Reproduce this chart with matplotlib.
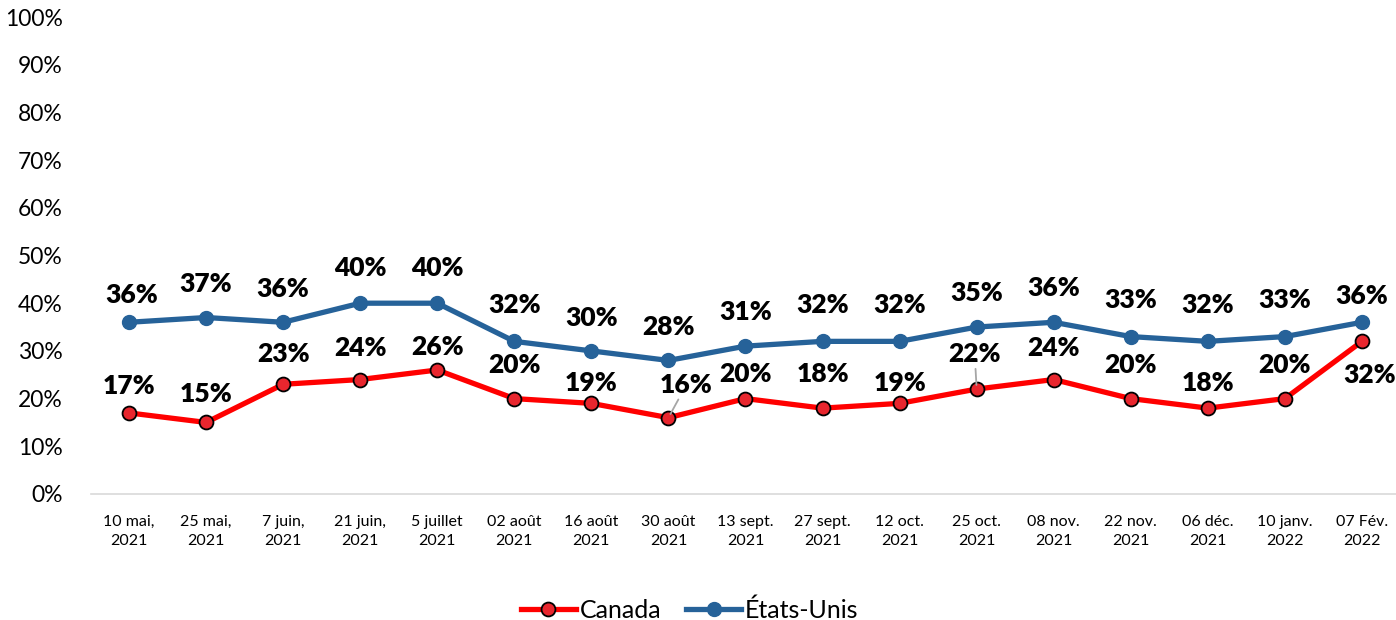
import matplotlib
matplotlib.use("Agg")
import matplotlib.pyplot as plt

dates = ["10 mai,\n2021", "25 mai,\n2021", "7 juin,\n2021", "21 juin,\n2021", "5 juillet\n2021",
         "02 août\n2021", "16 août\n2021", "30 août\n2021", "13 sept.\n2021", "27 sept.\n2021",
         "12 oct.\n2021", "25 oct.\n2021", "08 nov.\n2021", "22 nov.\n2021", "06 déc.\n2021",
         "10 janv.\n2022", "07 Fév.\n2022"]
canada = [17, 15, 23, 24, 26, 20, 19, 16, 20, 18, 19, 22, 24, 20, 18, 20, 32]
usa = [36, 37, 36, 40, 40, 32, 30, 28, 31, 32, 32, 35, 36, 33, 32, 33, 36]

# label offsets in pixels (dx, dy)
ca_off = [(0, 27), (0, 28), (0, 30), (0, 32), (0, 23), (0, 34), (0, 20), (18, 33), (0, 25),
          (0, 34), (0, 20), (-2, 35), (0, 32), (0, 34), (0, 25), (0, 34), (8, -34)]
us_off = [(3, 27), (0, 34), (0, 33), (0, 35), (0, 35), (0, 36), (0, 33), (0, 33), (0, 34),
          (0, 36), (0, 36), (0, 34), (0, 34), (0, 37), (0, 36), (0, 37), (0, 26)]
leaders = {7, 11}

plt.rcParams['font.family'] = ['Lato', 'DejaVu Sans']

fig = plt.figure(figsize=(13.96, 6.2), dpi=100)
ax = fig.add_axes([90.5 / 1396, 126 / 620, 1310 / 1396, 477 / 620])

x = list(range(len(dates)))
red = '#FF0000'
blue = '#266299'
ax.plot(x, canada, color=red, lw=3.8, marker='o', ms=10, mfc='#E8262E', mec='black',
        mew=1.3, label='Canada', zorder=3)
ax.plot(x, usa, color=blue, lw=3.8, marker='o', ms=10, mfc=blue, mec=blue,
        label='États-Unis', zorder=3)

for i, v in enumerate(usa):
    ax.annotate(f"{v}%", (i, v), xytext=us_off[i], textcoords='offset pixels',
                ha='center', va='center', fontsize=19, fontweight='heavy')
for i, v in enumerate(canada):
    kw = {}
    if i in leaders:
        kw['arrowprops'] = dict(arrowstyle='-', color='#A6A6A6', lw=1.3, shrinkA=0, shrinkB=3)
    ax.annotate(f"{v}%", (i, v), xytext=ca_off[i], textcoords='offset pixels',
                ha='center', va='center', fontsize=19, fontweight='heavy', **kw)

ax.set_xlim(-0.5, len(dates) - 0.5)
ax.set_ylim(0, 100)
ax.set_yticks(range(0, 101, 10))
ax.set_yticklabels([f"{t}%" for t in range(0, 101, 10)], fontsize=16.5)
ax.set_xticks(x)
ax.set_xticklabels(dates, fontsize=11.5, linespacing=1.45)
ax.tick_params(axis='both', length=0)
ax.tick_params(axis='x', pad=15)
ax.tick_params(axis='y', pad=20)
for s in ['top', 'right', 'left']:
    ax.spines[s].set_visible(False)
ax.spines['bottom'].set_color('#D9D9D9')
ax.spines['bottom'].set_linewidth(1.2)

fig.legend(loc='center', bbox_to_anchor=(0.494, 0.016), ncol=2, frameon=False,
           fontsize=18, handlelength=2.2, columnspacing=1.0, handletextpad=0.15)

fig.savefig('out.png', dpi=100)
